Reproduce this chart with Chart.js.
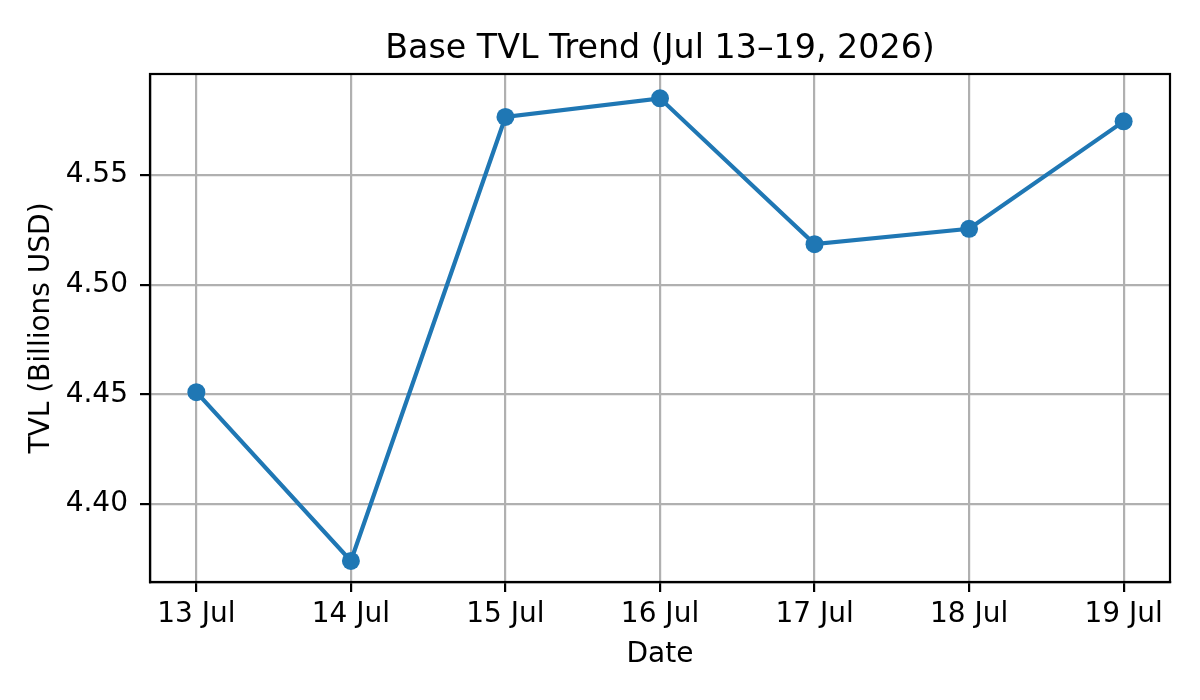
<!DOCTYPE html>
<html>
<head>
<meta charset="utf-8">
<script src="https://cdn.jsdelivr.net/npm/chart.js@4.4.1/dist/chart.umd.min.js"></script>
<style>
  html, body { margin: 0; padding: 0; background: #fff; }
  #wrap { width: 1200px; height: 700px; }
</style>
</head>
<body>
<div id="wrap"><canvas id="tvlChart" width="1200" height="700"></canvas></div>
<script>
// chart data
var dayLabels = ["13 Jul", "14 Jul", "15 Jul", "16 Jul", "17 Jul", "18 Jul", "19 Jul"];
var tvlValues = [4.451, 4.374, 4.5765, 4.585, 4.5185, 4.5255, 4.5745];
var yTicks = [4.40, 4.45, 4.50, 4.55];
var chartTitle = "Base TVL Trend (Jul 13–19, 2026)";

var blue = "#1f77b4";
var gridGrey = "#b0b0b0";
var fontName = "'DejaVu Sans', sans-serif";

var points = tvlValues.map(function (v, i) {
  return { x: i, y: v };
});

// matplotlib draws the top and right spines too, and centres the title on the axes
var frameBox = {
  id: "frameBox",
  afterDraw: function (chart) {
    var a = chart.chartArea;
    var ctx = chart.ctx;
    ctx.save();
    ctx.strokeStyle = "#000";
    ctx.lineWidth = 2.2;
    ctx.strokeRect(a.left, a.top, a.right - a.left, a.bottom - a.top);
    ctx.fillStyle = "#000";
    ctx.font = "33.3px " + fontName;
    ctx.textAlign = "center";
    ctx.textBaseline = "alphabetic";
    ctx.fillText(chartTitle, (a.left + a.right) / 2, 58);
    ctx.restore();
  }
};

Chart.defaults.font.family = fontName;
Chart.defaults.color = "#000";

new Chart(document.getElementById("tvlChart"), {
  type: "line",
  data: {
    datasets: [
      {
        label: "TVL",
        data: points,
        borderColor: blue,
        backgroundColor: blue,
        borderWidth: 4.2,
        pointRadius: 9,
        pointHoverRadius: 9,
        pointBorderWidth: 0,
        tension: 0
      }
    ]
  },
  options: {
    responsive: false,
    animation: false,
    devicePixelRatio: 1,
    layout: { padding: { left: 0, right: 30, top: 74, bottom: 0 } },
    plugins: {
      legend: { display: false },
      tooltip: { enabled: false },
      title: { display: false }
    },
    scales: {
      x: {
        type: "linear",
        min: -0.3,
        max: 6.3,
        afterBuildTicks: function (scale) {
          scale.ticks = dayLabels.map(function (d, i) { return { value: i }; });
        },
        afterFit: function (scale) { scale.height = 118; },
        ticks: {
          font: { size: 28 },
          padding: 6,
          maxRotation: 0,
          autoSkip: false,
          callback: function (v) { return dayLabels[v]; }
        },
        grid: {
          color: gridGrey,
          lineWidth: 2.2,
          tickColor: "#000",
          tickWidth: 2.2,
          tickLength: 10
        },
        border: { color: "#000", width: 2.2 },
        title: {
          display: true,
          text: "Date",
          font: { size: 28 },
          padding: { top: 0, bottom: 28 }
        }
      },
      y: {
        min: 4.3644,
        max: 4.5961,
        afterBuildTicks: function (scale) {
          scale.ticks = yTicks.map(function (v) { return { value: v }; });
        },
        afterFit: function (scale) { scale.width = 150; },
        ticks: {
          font: { size: 28 },
          padding: 12,
          callback: function (v) { return v.toFixed(2); }
        },
        grid: {
          color: gridGrey,
          lineWidth: 2.2,
          tickColor: "#000",
          tickWidth: 2.2,
          tickLength: 10
        },
        border: { color: "#000", width: 2.2 },
        title: {
          display: true,
          text: "TVL (Billions USD)",
          font: { size: 28 },
          padding: { top: 25, bottom: 0 }
        }
      }
    }
  },
  plugins: [frameBox]
});
</script>
</body>
</html>
